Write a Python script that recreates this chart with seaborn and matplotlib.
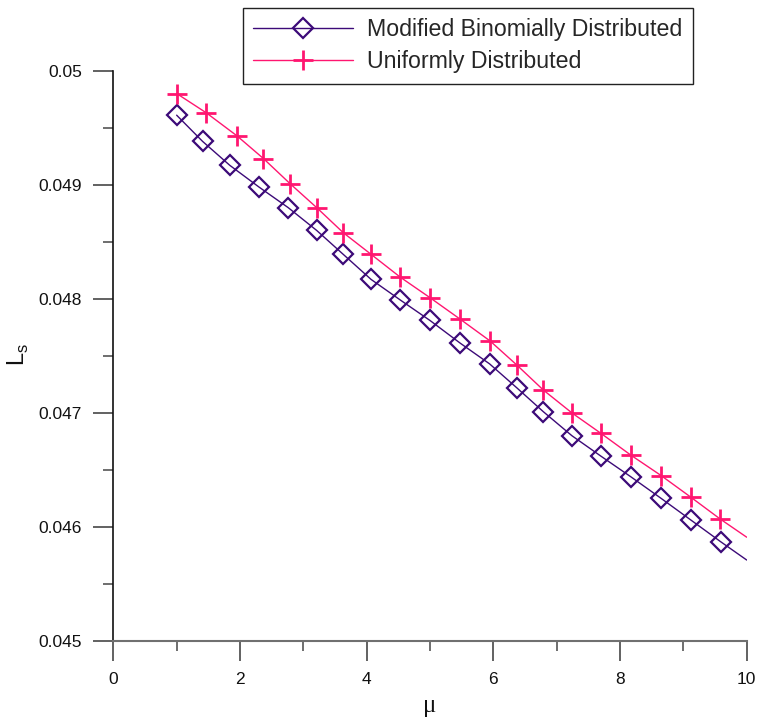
import matplotlib
matplotlib.use("Agg")
import matplotlib.pyplot as plt
import matplotlib.lines as mlines
from matplotlib.ticker import MultipleLocator, FixedLocator
import seaborn as sns
import pandas as pd

# Series values (mu, Ls); the last point of each is the line end without a marker
mu_binomial = [1.00, 1.41, 1.84, 2.30, 2.76, 3.21, 3.63, 4.07, 4.53, 5.00,
               5.48, 5.94, 6.37, 6.79, 7.24, 7.70, 8.17, 8.65, 9.12, 9.59, 10.0]
ls_binomial = [0.04961, 0.04938, 0.04917, 0.04898, 0.04880, 0.04860, 0.04839,
               0.04817, 0.04799, 0.04781, 0.04761, 0.04743, 0.04722, 0.04701,
               0.04680, 0.04662, 0.04644, 0.04625, 0.04606, 0.04587, 0.04571]

mu_uniform = [1.00, 1.47, 1.95, 2.37, 2.79, 3.21, 3.63, 4.07, 4.53, 5.00,
              5.48, 5.95, 6.37, 6.79, 7.24, 7.70, 8.17, 8.65, 9.12, 9.58, 10.0]
ls_uniform = [0.04980, 0.04963, 0.04943, 0.04923, 0.04901, 0.04880, 0.04858,
              0.04839, 0.04819, 0.04801, 0.04782, 0.04763, 0.04742, 0.04720,
              0.04700, 0.04682, 0.04663, 0.04645, 0.04626, 0.04607, 0.04591]

series_labels = ["Modified Binomially Distributed", "Uniformly Distributed"]
x_ticks = [0, 2, 4, 6, 8, 10]
y_ticks = [0.045, 0.046, 0.047, 0.048, 0.049, 0.05]
y_tick_labels = ["0.045", "0.046", "0.047", "0.048", "0.049", "0.05"]

purple = "#3c0a78"
pink = "#ff1670"

sns.set_theme(style="ticks")
plt.rcParams["font.family"] = ["Liberation Sans", "DejaVu Sans"]
plt.rcParams["mathtext.fontset"] = "custom"
plt.rcParams["mathtext.rm"] = "Liberation Sans"

fig = plt.figure(figsize=(7.58, 7.19), dpi=100)
ax = fig.add_axes([113.3 / 758, 1 - 641 / 719, (746.7 - 113.3) / 758, (641 - 70.7) / 719])

df_b = pd.DataFrame({"mu": mu_binomial, "Ls": ls_binomial})
df_u = pd.DataFrame({"mu": mu_uniform, "Ls": ls_uniform})

marked_b = list(range(len(mu_binomial) - 1))
marked_u = list(range(len(mu_uniform) - 1))

sns.lineplot(data=df_b, x="mu", y="Ls", ax=ax, sort=False, estimator=None,
             color=purple, linewidth=1.0, marker="D", markersize=10.5,
             markerfacecolor="none", markeredgecolor=purple,
             markeredgewidth=1.6, markevery=marked_b)
sns.lineplot(data=df_u, x="mu", y="Ls", ax=ax, sort=False, estimator=None,
             color=pink, linewidth=1.0, marker="+", markersize=15,
             markeredgecolor=pink, markeredgewidth=2.0, markevery=marked_u)

ax.set_xlim(0, 10)
ax.set_ylim(0.045, 0.05)
ax.set_xlabel("")
ax.set_ylabel("")

ax.xaxis.set_major_locator(FixedLocator(x_ticks))
ax.xaxis.set_minor_locator(MultipleLocator(1))
ax.yaxis.set_major_locator(FixedLocator(y_ticks))
ax.set_yticklabels(y_tick_labels)
ax.yaxis.set_minor_locator(MultipleLocator(0.0005))

for side in ("top", "right"):
    ax.spines[side].set_visible(False)
ax.spines["left"].set_color("#111111")
ax.spines["left"].set_linewidth(1.2)
ax.spines["bottom"].set_color("#707070")
ax.spines["bottom"].set_linewidth(1.5)

ax.tick_params(axis="both", which="major", direction="out", length=14.5,
               width=1.3, color="#555555", labelsize=12.5, labelcolor="#111111", pad=8)
ax.tick_params(axis="both", which="minor", direction="out", length=7,
               width=1.2, color="#555555")
ax.grid(False)

# Axis titles
fig.text(18 / 758, 1 - 354 / 719, "L$_\\mathregular{s}$", rotation=90,
         ha="center", va="center", fontsize=17, color="#111111")
fig.text(430 / 758, 1 - 706 / 719, "μ", ha="center", va="center",
         fontsize=18, family=["Liberation Serif", "DejaVu Serif"], color="#111111")

# Legend with proxy handles
handles = [
    mlines.Line2D([], [], color=purple, linewidth=1.0, marker="D", markersize=10.5,
                  markerfacecolor="none", markeredgecolor=purple, markeredgewidth=1.6),
    mlines.Line2D([], [], color=pink, linewidth=1.0, marker="+", markersize=15,
                  markeredgecolor=pink, markeredgewidth=2.0),
]
leg = fig.legend(handles, series_labels, loc="upper left",
                 bbox_to_anchor=(243 / 758, 1 - 82 / 719, (693 - 243) / 758, 74 / 719),
                 mode="expand", fontsize=16.7, frameon=True, fancybox=False, shadow=False,
                 framealpha=1, edgecolor="#222222", handlelength=4.3,
                 handletextpad=0.6, labelspacing=0.38, borderpad=0.45,
                 borderaxespad=0, numpoints=1)
leg.get_frame().set_linewidth(1.0)

fig.savefig("out.png", dpi=100, facecolor="white")
